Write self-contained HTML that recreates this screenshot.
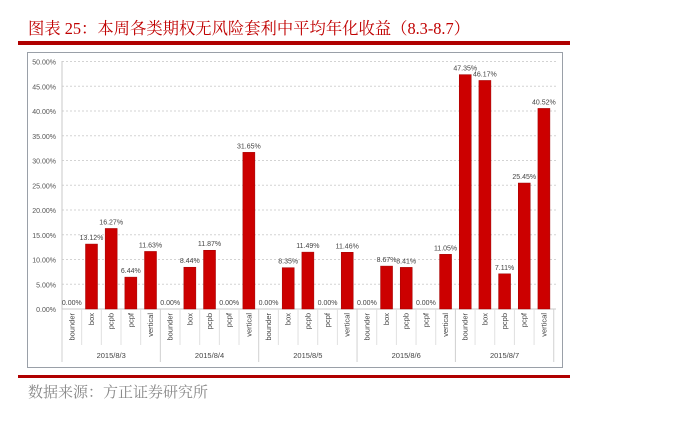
<!DOCTYPE html>
<html><head><meta charset="utf-8"><style>
html,body{margin:0;padding:0;background:#fff;}
body{width:691px;height:416px;overflow:hidden;}
</style></head><body>
<svg width="691" height="416" xmlns="http://www.w3.org/2000/svg" font-family="Liberation Sans, sans-serif">
<text x="28" y="34" font-size="16.5" fill="#c00000" textLength="442" lengthAdjust="spacingAndGlyphs" font-family="Liberation Serif, Noto Serif CJK SC, serif">图表 25：本周各类期权无风险套利中平均年化收益（8.3-8.7）</text>
<rect x="18" y="41" width="552" height="4" fill="#b00000"/>
<rect x="27.5" y="52.5" width="535" height="315" fill="#fff" stroke="#9aa0a8" stroke-width="1"/>
<g id="plot"></g>
<rect x="18" y="375" width="552" height="3" fill="#b00000"/>
<text x="28" y="397" font-size="15" fill="#888" font-family="Liberation Serif, Noto Serif CJK SC, serif">数据来源：方正证券研究所</text>
<script>
var ns="http://www.w3.org/2000/svg";
var g=document.getElementById('plot');
function el(t,a,txt){var e=document.createElementNS(ns,t);for(var k in a)e.setAttribute(k,a[k]);if(txt!=null)e.textContent=txt;g.appendChild(e);return e;}
var y0=309,s=4.95,x0=62,cw=19.67;
for(var i=0;i<=10;i++){var y=y0-i*5*s;
 if(i>0)el('line',{x1:x0,x2:556,y1:y,y2:y,stroke:'#d3d3d3','stroke-dasharray':'2,2'});
 el('text',{x:56,y:y+3,'font-size':7,fill:'#555','text-anchor':'end'},(i*5).toFixed(2)+'%');}
el('line',{x1:x0,x2:x0,y1:61,y2:362,stroke:'#c8c8c8'});
el('line',{x1:x0,x2:556,y1:y0,y2:y0,stroke:'#c8c8c8'});
var cats=['bounder','box','pcpb','pcpf','vertical'];
var dates=['2015/8/3','2015/8/4','2015/8/5','2015/8/6','2015/8/7'];
var v=[[0,13.12,16.27,6.44,11.63],[0,8.44,11.87,0,31.65],[0,8.35,11.49,0,11.46],[0,8.67,8.41,0,11.05],[47.35,46.17,7.11,25.45,40.52]];
for(var d=0;d<5;d++){
 var gx=x0+d*5*cw;
 el('line',{x1:gx,x2:gx,y1:y0,y2:362,stroke:'#d0d0d0'});
 el('text',{x:gx+2.5*cw,y:358,'font-size':7.5,fill:'#444','text-anchor':'middle'},dates[d]);
 for(var c=0;c<5;c++){
  var cx=gx+(c+0.5)*cw,val=v[d][c];
  if(c>0)el('line',{x1:gx+c*cw,x2:gx+c*cw,y1:y0,y2:345,stroke:'#e0e0e0'});
  var h=val*s;
  if(val>0)el('rect',{x:cx-6,y:y0-h,width:12,height:h,fill:'#cc0000',stroke:'#a00000','stroke-width':0.5});
  el('text',{x:cx,y:y0-h-4,'font-size':7,fill:'#444','text-anchor':'middle'},val.toFixed(2)+'%');
  el('text',{x:0,y:0,'font-size':7.5,fill:'#444','text-anchor':'end',transform:'translate('+(cx+2.5)+',313) rotate(-90)'},cats[c]);
 }
}
el('line',{x1:x0+25*cw,x2:x0+25*cw,y1:y0,y2:362,stroke:'#d0d0d0'});
</script>
</svg>
</body></html>
